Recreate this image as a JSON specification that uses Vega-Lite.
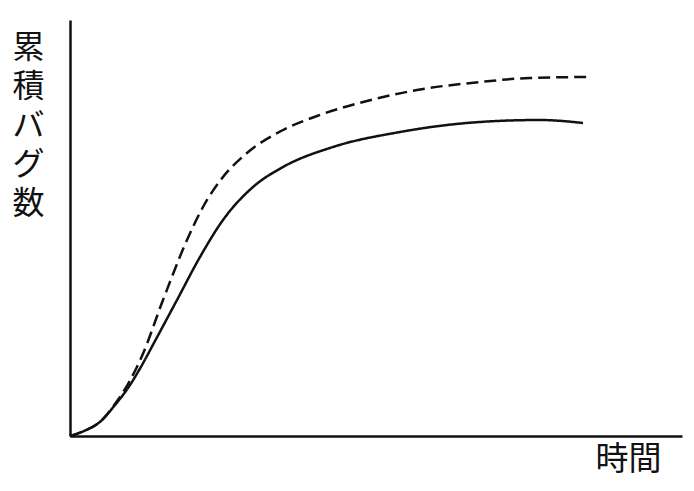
{
  "$schema": "https://vega.github.io/schema/vega-lite/v6.json",
  "description": "Cumulative bug count over time, two S-curves (solid and dashed).",
  "autosize": "none",
  "padding": {"left": 70, "top": 20, "right": 12, "bottom": 55},
  "width": 612,
  "height": 416,
  "background": "white",
  "config": {
    "view": {"stroke": null},
    "font": "Noto Sans CJK JP"
  },
  "data": {
    "values": [
      {"series": "actual", "t": 0, "bugs": 0},
      {"series": "actual", "t": 14, "bugs": 5},
      {"series": "actual", "t": 31, "bugs": 15},
      {"series": "actual", "t": 45, "bugs": 31},
      {"series": "actual", "t": 58, "bugs": 48},
      {"series": "actual", "t": 72, "bugs": 71},
      {"series": "actual", "t": 85, "bugs": 95},
      {"series": "actual", "t": 107, "bugs": 136},
      {"series": "actual", "t": 130, "bugs": 179},
      {"series": "actual", "t": 153, "bugs": 216},
      {"series": "actual", "t": 183, "bugs": 249},
      {"series": "actual", "t": 213, "bugs": 269},
      {"series": "actual", "t": 263, "bugs": 289},
      {"series": "actual", "t": 330, "bugs": 304},
      {"series": "actual", "t": 377, "bugs": 311},
      {"series": "actual", "t": 427, "bugs": 315},
      {"series": "actual", "t": 470, "bugs": 316},
      {"series": "actual", "t": 513, "bugs": 313},
      {"series": "expected", "t": 0, "bugs": 0},
      {"series": "expected", "t": 14, "bugs": 5},
      {"series": "expected", "t": 31, "bugs": 15},
      {"series": "expected", "t": 45, "bugs": 32},
      {"series": "expected", "t": 58, "bugs": 52},
      {"series": "expected", "t": 72, "bugs": 80},
      {"series": "expected", "t": 93, "bugs": 136},
      {"series": "expected", "t": 117, "bugs": 196},
      {"series": "expected", "t": 133, "bugs": 229},
      {"series": "expected", "t": 153, "bugs": 259},
      {"series": "expected", "t": 177, "bugs": 283},
      {"series": "expected", "t": 213, "bugs": 306},
      {"series": "expected", "t": 247, "bugs": 320},
      {"series": "expected", "t": 297, "bugs": 335},
      {"series": "expected", "t": 347, "bugs": 346},
      {"series": "expected", "t": 410, "bugs": 354},
      {"series": "expected", "t": 460, "bugs": 358},
      {"series": "expected", "t": 517, "bugs": 359}
    ]
  },
  "mark": {"type": "line", "interpolate": "monotone", "strokeWidth": 2.5, "color": "#111"},
  "encoding": {
    "x": {
      "field": "t",
      "type": "quantitative",
      "scale": {"domain": [0, 612], "nice": false, "zero": false},
      "axis": {
        "title": "時間",
        "titleFontSize": 33,
        "titleFontWeight": "normal",
        "titleColor": "#111",
        "titleX": 558,
        "titleY": 23,
        "titleAlign": "center",
        "titleBaseline": "middle",
        "labels": false,
        "ticks": false,
        "grid": false,
        "domainColor": "#111",
        "domainWidth": 2.5
      }
    },
    "y": {
      "field": "bugs",
      "type": "quantitative",
      "scale": {"domain": [0, 416], "nice": false},
      "axis": {
        "title": ["累", "積", "バ", "グ", "数"],
        "titleAngle": 0,
        "titleFontSize": 32,
        "titleFontWeight": "normal",
        "titleColor": "#111",
        "titleLineHeight": 39,
        "titleX": -42,
        "titleY": 12,
        "titleAlign": "center",
        "titleBaseline": "top",
        "labels": false,
        "ticks": false,
        "grid": false,
        "domainColor": "#111",
        "domainWidth": 2.5
      }
    },
    "strokeDash": {
      "field": "series",
      "type": "nominal",
      "scale": {"domain": ["actual", "expected"], "range": [[1, 0], [12, 6]]},
      "legend": null
    }
  }
}
